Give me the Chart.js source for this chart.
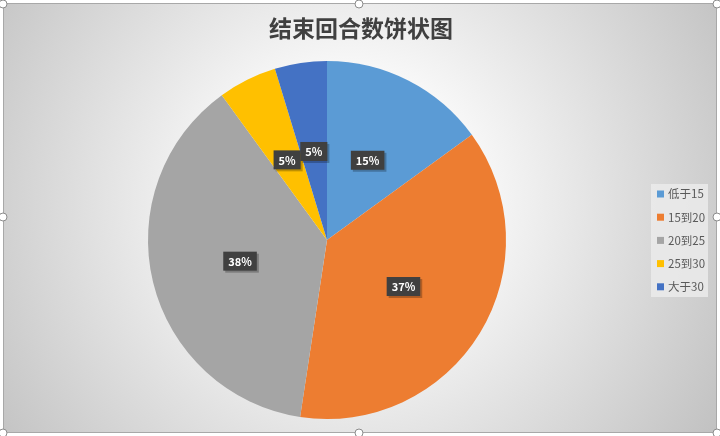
<!DOCTYPE html>
<html>
<head>
<meta charset="utf-8">
<script src="https://cdn.jsdelivr.net/npm/chart.js@4.4.0/dist/chart.umd.min.js"></script>
<style>
  html, body { margin: 0; padding: 0; background: #fff; }
  #wrap { width: 720px; height: 436px; position: relative; }
</style>
</head>
<body>
<div id="wrap"><canvas id="pie"></canvas></div>
<script>
  const TITLE = "结束回合数饼状图";
  const categories = ["低于15", "15到20", "20到25", "25到30", "大于30"];
  const shares = [15.0, 37.4, 37.6, 5.3, 4.7];
  const colors = ["#5B9BD5", "#ED7D31", "#A5A5A5", "#FFC000", "#4472C4"];

  const FONT = '"Noto Sans CJK SC", "Noto Sans", sans-serif';

  // frame, gradient, title and Excel-style selection handles
  const framePlugin = {
    id: "frame",
    beforeDraw(chart) {
      const ctx = chart.ctx;
      ctx.save();
      const g = ctx.createRadialGradient(350, 200, 0, 350, 200, 430);
      g.addColorStop(0, "#ffffff");
      g.addColorStop(0.3, "#f8f8f8");
      g.addColorStop(1, "#c2c2c2");
      ctx.fillStyle = g;
      ctx.fillRect(3, 3, 714, 430);
      ctx.strokeStyle = "#a8a8a8";
      ctx.lineWidth = 1;
      ctx.strokeRect(3.5, 3.5, 713, 429);

      ctx.fillStyle = "#404040";
      ctx.font = "bold 23px " + FONT;
      ctx.textAlign = "center";
      ctx.textBaseline = "middle";
      ctx.fillText(TITLE, 361, 28);
      ctx.restore();
    },
    afterDraw(chart) {
      const ctx = chart.ctx;
      ctx.save();
      const handles = [[3, 4], [359, 4], [717, 4], [3, 217], [717, 217], [3, 433], [359, 433], [717, 433]];
      for (const [x, y] of handles) {
        ctx.beginPath();
        ctx.arc(x, y, 4, 0, Math.PI * 2);
        ctx.fillStyle = "#ffffff";
        ctx.fill();
        ctx.strokeStyle = "#8c8c8c";
        ctx.lineWidth = 1;
        ctx.stroke();
      }
      ctx.restore();
    },
  };

  // dark percentage boxes at half radius
  const labelPlugin = {
    id: "boxLabels",
    afterDatasetsDraw(chart) {
      const ctx = chart.ctx;
      const meta = chart.getDatasetMeta(0);
      const total = shares.reduce((a, b) => a + b, 0);
      ctx.save();
      ctx.font = "bold 11px " + FONT;
      ctx.textAlign = "center";
      ctx.textBaseline = "middle";
      meta.data.forEach((arc, i) => {
        const p = arc.getProps(["x", "y", "startAngle", "endAngle", "outerRadius"], true);
        const mid = (p.startAngle + p.endAngle) / 2;
        const r = p.outerRadius * 0.5;
        const x = p.x + Math.cos(mid) * r;
        const y = p.y + Math.sin(mid) * r;
        const txt = Math.round(shares[i] / total * 100) + "%";
        const w = ctx.measureText(txt).width + 10;
        const h = 19;
        ctx.fillStyle = "rgba(0,0,0,0.25)";
        ctx.fillRect(x - w / 2 + 2, y - h / 2 + 2, w, h);
        ctx.fillStyle = "#404040";
        ctx.fillRect(x - w / 2, y - h / 2, w, h);
        ctx.fillStyle = "#ffffff";
        ctx.fillText(txt, x, y + 0.5);
      });
      ctx.restore();
    },
  };

  // right side legend with light box
  const legendPlugin = {
    id: "sideLegend",
    afterDraw(chart) {
      const ctx = chart.ctx;
      const labels = chart.data.labels;
      const bg = chart.data.datasets[0].backgroundColor;
      ctx.save();
      ctx.fillStyle = "rgba(235,235,235,0.85)";
      ctx.fillRect(651, 184, 57, 113);
      ctx.font = "11.5px " + FONT;
      ctx.textAlign = "left";
      ctx.textBaseline = "middle";
      labels.forEach((lab, i) => {
        const y = 194 + i * 23.2;
        ctx.fillStyle = bg[i];
        ctx.fillRect(657, y - 3.5, 7, 7);
        ctx.fillStyle = "#595959";
        ctx.fillText(lab, 668, y);
      });
      ctx.restore();
    },
  };

  new Chart(document.getElementById("pie"), {
    type: "pie",
    data: {
      labels: categories,
      datasets: [{
        data: shares,
        backgroundColor: colors,
        borderWidth: 0,
      }],
    },
    options: {
      responsive: true,
      maintainAspectRatio: false,
      animation: false,
      layout: { padding: { top: 61, bottom: 17, left: 148, right: 214 } },
      plugins: {
        legend: { display: false },
        title: { display: false },
        tooltip: { enabled: false },
      },
    },
    plugins: [framePlugin, labelPlugin, legendPlugin],
  });
</script>
</body>
</html>
